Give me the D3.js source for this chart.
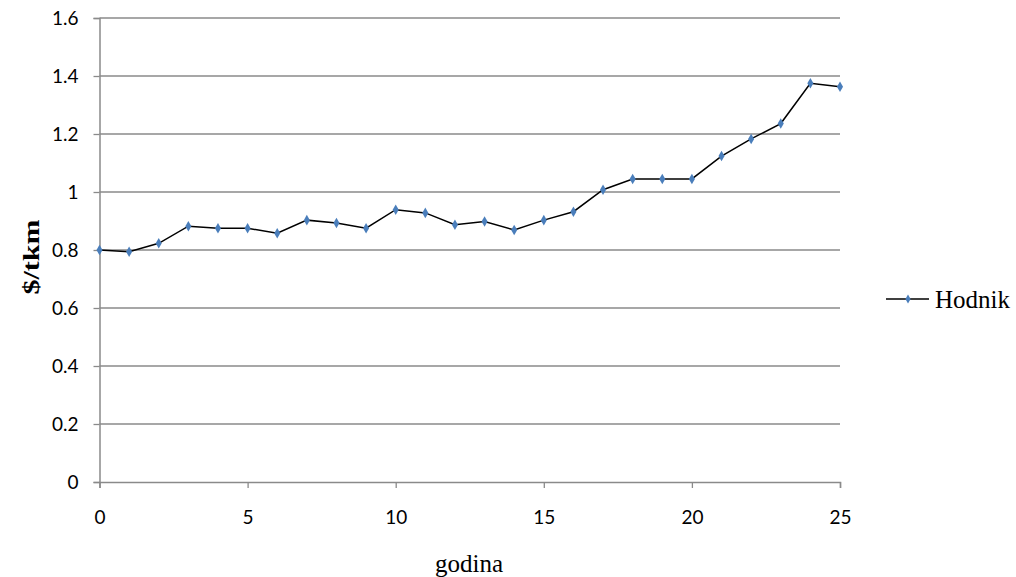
<!DOCTYPE html>
<html><head><meta charset="utf-8">
<script src="https://cdn.jsdelivr.net/npm/d3@7"></script>
<style>body{margin:0;background:#fff}</style>
</head><body>
<svg id="c" width="1016" height="577"></svg>
<script>
const years = d3.range(0, 26);
const hodnik = [0.800,0.794,0.823,0.882,0.875,0.875,0.858,0.903,0.893,0.875,0.939,0.928,0.887,0.898,0.869,0.903,0.932,1.008,1.045,1.045,1.045,1.124,1.183,1.236,1.375,1.363];
const yTicks = [0,0.2,0.4,0.6,0.8,1,1.2,1.4,1.6];
const xTicks = [0,5,10,15,20,25];
const seriesName = "Hodnik";

const svg = d3.select("#c");
const x = d3.scaleLinear().domain([0,25]).range([99.5,840]);
const y = d3.scaleLinear().domain([0,1.6]).range([482,18]);
const grid = "#8a8a8a";

// gridlines
svg.append("g").selectAll("line").data(yTicks.filter(d=>d>0)).join("line")
  .attr("x1",x(0)).attr("x2",x(25)).attr("y1",d=>y(d)).attr("y2",d=>y(d))
  .attr("stroke",grid).attr("stroke-width",1.3);

const yAxis = svg.append("g").attr("transform",`translate(${x(0)},0)`)
  .call(d3.axisLeft(y).tickValues(yTicks).tickSize(6).tickPadding(15).tickFormat(d=>d3.format("")(d)));
const xAxis = svg.append("g").attr("transform",`translate(0,${y(0)})`)
  .call(d3.axisBottom(x).tickValues(xTicks).tickSize(6).tickPadding(23));
[yAxis,xAxis].forEach(a=>{
  a.select(".domain").attr("stroke",grid).attr("stroke-width",1.5);
  a.selectAll(".tick line").attr("stroke",grid).attr("stroke-width",1.3);
  a.selectAll("text").attr("font-family","Lato, 'Open Sans', sans-serif").attr("font-size",19).attr("fill","#000");
});

const line = d3.line().x((d,i)=>x(years[i])).y(d=>y(d));
svg.append("path").datum(hodnik).attr("d",line).attr("fill","none").attr("stroke","#000").attr("stroke-width",1.5);

const diamond = d3.symbol().type(d3.symbolDiamond).size(32);
svg.append("g").selectAll("path").data(hodnik).join("path")
  .attr("d",diamond).attr("transform",(d,i)=>`translate(${x(years[i])},${y(d)})`)
  .attr("fill","#4a7ebb");

// axis titles
svg.append("text").attr("x",469).attr("y",572).attr("text-anchor","middle")
  .attr("font-family","'Liberation Serif', 'Times New Roman', serif").attr("font-size",25).text("godina");
svg.append("text").attr("transform","translate(39,257) rotate(-90)").attr("text-anchor","middle")
  .attr("font-family","'Liberation Serif', 'Times New Roman', serif").attr("font-size",24).attr("font-weight","bold")
  .attr("textLength",75).attr("lengthAdjust","spacingAndGlyphs").text("$/tkm");

// legend
const lg = svg.append("g");
lg.append("line").attr("x1",886).attr("x2",929).attr("y1",299).attr("y2",299).attr("stroke","#000").attr("stroke-width",1.5);
lg.append("path").attr("d",d3.symbol().type(d3.symbolDiamond).size(24)).attr("transform","translate(908,299)").attr("fill","#4a7ebb");
lg.append("text").attr("x",935).attr("y",308).attr("font-family","'Liberation Serif', 'Times New Roman', serif").attr("font-size",25).text(seriesName);
</script>
</body></html>
